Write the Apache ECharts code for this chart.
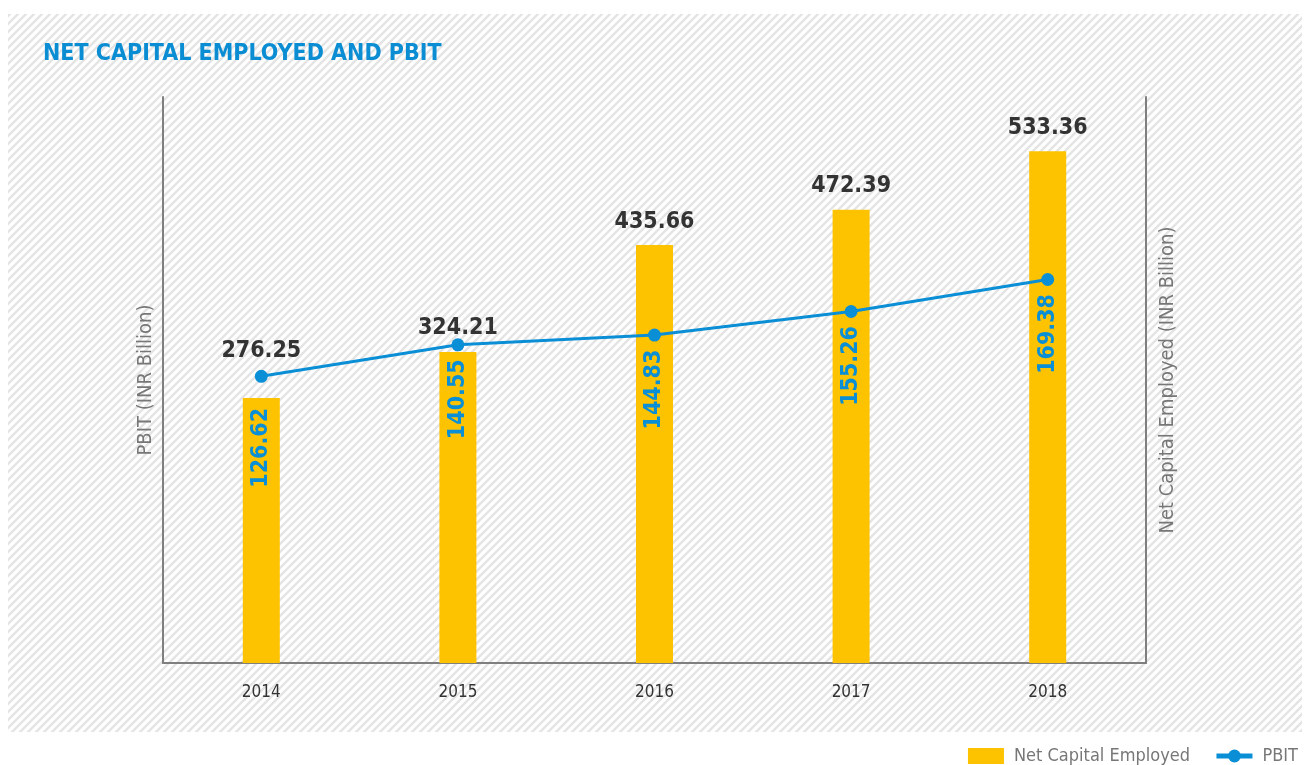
<!DOCTYPE html>
<html>
<head>
<meta charset="utf-8">
<title>Net Capital Employed and PBIT</title>
<script src="https://cdn.jsdelivr.net/npm/echarts@6/dist/echarts.min.js"></script>
<style>
  html, body { margin: 0; padding: 0; background: #fff; }
  #chart { width: 1309px; height: 765px; }
</style>
</head>
<body>
<div id="chart"></div>
<script>
var years = ['2014', '2015', '2016', '2017', '2018'];
var netCapital = [276.25, 324.21, 435.66, 472.39, 533.36];
var pbit = [126.62, 140.55, 144.83, 155.26, 169.38];

var FONT = "'DejaVu Sans Condensed', 'Liberation Sans Narrow', sans-serif";

// hatch pattern for the panel behind the chart
function makeHatch() {
    var s = 8;
    var c = document.createElement('canvas');
    c.width = s; c.height = s;
    var ctx = c.getContext('2d');
    ctx.strokeStyle = '#e4e4e4';
    ctx.lineWidth = 2.4;
    ctx.beginPath();
    ctx.moveTo(-1, s + 1); ctx.lineTo(s + 1, -1);
    ctx.moveTo(-2, 2); ctx.lineTo(2, -2);
    ctx.moveTo(s - 2, s + 2); ctx.lineTo(s + 2, s - 2);
    ctx.stroke();
    return c;
}

var chart = echarts.init(document.getElementById('chart'));

var barData = netCapital.map(function (v, i) {
    // first label sits higher so it clears the PBIT point
    return i === 0 ? { value: v, label: { offset: [0, -23] } } : v;
});
var lineData = pbit.map(function (v, i) {
    // offset is in the rotated frame: negative x pushes it down the bar
    return i === 0 ? { value: v, label: { offset: [-17, 0] } } : v;
});

var option = {
    animation: false,
    title: {
        text: 'NET CAPITAL EMPLOYED AND PBIT',
        left: 38,
        top: 38,
        textStyle: { color: '#0b8dd3', fontSize: 23, fontWeight: 'bold', fontFamily: FONT }
    },
    graphic: [{
        type: 'rect',
        z: -10,
        silent: true,
        shape: { x: 8, y: 14, width: 1294, height: 718 },
        style: { fill: { image: makeHatch(), repeat: 'repeat' } }
    }],
    legend: {
        right: 6,
        top: 742,
        itemWidth: 36,
        itemHeight: 16,
        itemGap: 24,
        textStyle: { color: '#777', fontSize: 18, fontFamily: FONT, padding: [0, 0, 0, 5] },
        data: [
            { name: 'Net Capital Employed', icon: 'rect' },
            { name: 'PBIT', lineStyle: { width: 5 } }
        ]
    },
    grid: { left: 163, right: 163, top: 97, bottom: 102 },
    xAxis: {
        type: 'category',
        data: years,
        axisLine: { lineStyle: { color: '#7f7f7f', width: 2 } },
        axisTick: { show: false },
        axisLabel: { color: '#333', fontSize: 17, fontFamily: FONT, margin: 21 }
    },
    yAxis: [{
        type: 'value',
        min: 0,
        max: 250,
        position: 'left',
        name: 'PBIT (INR Billion)',
        nameLocation: 'middle',
        nameGap: 7,
        nameTextStyle: { color: '#777', fontSize: 20, fontFamily: FONT },
        axisLine: { show: true, lineStyle: { color: '#7f7f7f', width: 2 } },
        axisTick: { show: false },
        axisLabel: { show: false },
        splitLine: { show: false }
    }, {
        type: 'value',
        min: 0,
        max: 590,
        position: 'right',
        name: 'Net Capital Employed (INR Billion)',
        nameLocation: 'middle',
        nameGap: 12,
        nameTextStyle: { color: '#777', fontSize: 20, fontFamily: FONT },
        axisLine: { show: true, lineStyle: { color: '#7f7f7f', width: 2 } },
        axisTick: { show: false },
        axisLabel: { show: false },
        splitLine: { show: false }
    }],
    series: [{
        name: 'Net Capital Employed',
        type: 'bar',
        yAxisIndex: 1,
        barWidth: 37,
        itemStyle: { color: '#fdc300' },
        label: {
            show: true,
            position: 'top',
            distance: 12,
            color: '#333',
            fontSize: 23,
            fontWeight: 'bold',
            fontFamily: FONT
        },
        data: barData
    }, {
        name: 'PBIT',
        type: 'line',
        yAxisIndex: 0,
        symbol: 'circle',
        symbolSize: 13,
        z: 5,
        lineStyle: { color: '#0a8fd6', width: 3 },
        itemStyle: { color: '#0a8fd6' },
        label: {
            show: true,
            position: 'bottom',
            distance: 8,
            rotate: 90,
            align: 'right',
            verticalAlign: 'middle',
            color: '#0a8fd6',
            fontSize: 23,
            fontWeight: 'bold',
            fontFamily: FONT
        },
        data: lineData
    }]
};

chart.setOption(option);
</script>
</body>
</html>
